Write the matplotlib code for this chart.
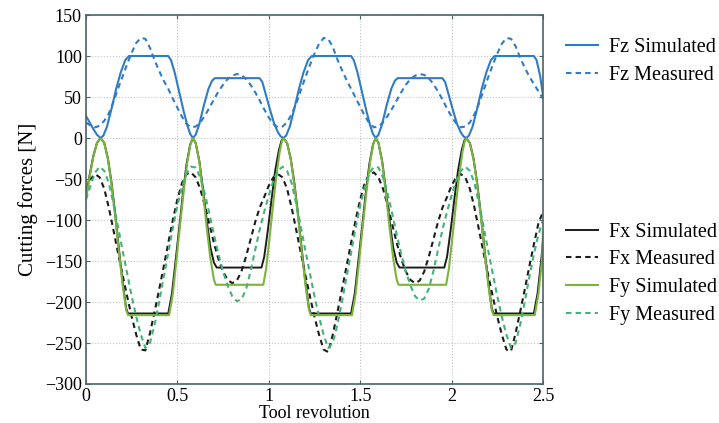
import matplotlib
matplotlib.use("Agg")
import matplotlib.pyplot as plt

plt.rcParams['font.family'] = ['Liberation Serif', 'DejaVu Serif']

# measured signals, sampled every 0.025 revolution
x_meas = [i * 0.025 for i in range(101)]

fz_meas = [19, 15, 13, 15, 21, 30, 44, 60, 75, 90, 104, 116, 122, 121, 110, 95, 82, 70, 60, 48,
           37, 26, 17, 13, 14, 19, 27, 37, 47, 57, 65, 72, 76, 78, 77, 72, 65, 56, 46, 35,
           25, 17, 13, 14, 19, 29, 42, 58, 74, 89, 103, 115, 122, 121, 111, 96, 83, 71, 60, 49,
           38, 27, 18, 13, 14, 19, 27, 36, 46, 56, 65, 72, 76, 78, 77, 73, 66, 57, 47, 36,
           26, 18, 13, 14, 19, 29, 42, 58, 74, 89, 103, 115, 122, 121, 112, 98, 86, 75, 66, 57,
           48]

fx_meas = [-62, -50, -44, -48, -62, -85, -112, -140, -167, -193, -218, -240, -258, -259, -238, -212, -185, -157, -128, -100,
           -75, -55, -44, -42, -48, -62, -82, -105, -128, -148, -163, -173, -177, -174, -163, -145, -124, -103, -85, -72,
           -58, -48, -44, -48, -62, -85, -112, -140, -167, -193, -218, -240, -258, -261, -240, -213, -185, -157, -128, -100,
           -75, -55, -44, -42, -48, -62, -82, -105, -128, -148, -163, -173, -177, -174, -163, -145, -124, -103, -85, -72,
           -58, -48, -44, -48, -62, -85, -112, -140, -167, -193, -218, -240, -258, -260, -238, -212, -185, -157, -130, -104,
           -90]

fy_meas = [-75, -58, -42, -35, -40, -55, -80, -108, -137, -165, -193, -218, -240, -256, -250, -228, -200, -170, -140, -110,
           -82, -60, -43, -35, -36, -48, -68, -92, -118, -142, -163, -180, -193, -199, -197, -185, -163, -137, -112, -90,
           -70, -52, -40, -35, -40, -55, -80, -108, -137, -165, -193, -218, -240, -256, -250, -228, -200, -170, -140, -110,
           -82, -60, -43, -35, -36, -48, -68, -92, -118, -142, -163, -180, -193, -198, -196, -184, -163, -137, -112, -90,
           -70, -52, -40, -35, -40, -55, -80, -108, -137, -165, -193, -218, -240, -256, -250, -228, -200, -170, -142, -118,
           -100]

# simulated signals (breakpoints)
fz_sim_x = [0, .02, .04, .06, .08, .095, .115, .14, .165, .19, .215, .235, .45, .465, .485, .51, .535, .555, .57,
            .585, .6, .62, .645, .67, .69, .705, .95, .965, .985, 1.01, 1.03, 1.05, 1.065,
            1.08, 1.095, 1.115, 1.14, 1.165, 1.19, 1.215, 1.235, 1.45, 1.465, 1.485, 1.51, 1.535, 1.555, 1.57,
            1.585, 1.6, 1.62, 1.645, 1.67, 1.69, 1.705, 1.95, 1.965, 1.985, 2.01, 2.03, 2.05, 2.065,
            2.08, 2.095, 2.115, 2.14, 2.165, 2.19, 2.215, 2.235, 2.45, 2.465, 2.485, 2.5]
fz_sim = [27, 19, 11, 4, 0, 3, 14, 36, 60, 80, 95, 100, 100, 95, 80, 56, 32, 15, 5,
          0, 4, 17, 40, 60, 70, 73, 73, 68, 52, 32, 17, 7, 2,
          0, 3, 14, 36, 60, 80, 95, 100, 100, 95, 80, 56, 32, 15, 5,
          0, 4, 17, 40, 60, 70, 73, 73, 68, 52, 32, 17, 7, 2,
          0, 3, 14, 36, 60, 80, 95, 100, 100, 95, 75, 52]

fx_sim_x = [0, .02, .04, .06, .08, .1, .12, .14, .16, .18, .2, .22, .23, .45, .47, .49, .51, .53, .55, .57,
            .585, .6, .62, .64, .66, .68, .7, .715, .96, .975, .995, 1.015, 1.035, 1.055, 1.07,
            1.08, 1.1, 1.12, 1.14, 1.16, 1.18, 1.2, 1.22, 1.23, 1.45, 1.47, 1.49, 1.51, 1.53, 1.55, 1.57,
            1.585, 1.6, 1.62, 1.64, 1.66, 1.68, 1.7, 1.715, 1.96, 1.975, 1.995, 2.015, 2.035, 2.055, 2.07,
            2.08, 2.1, 2.12, 2.14, 2.16, 2.18, 2.2, 2.22, 2.23, 2.45, 2.47, 2.49, 2.5]
fx_sim = [-72, -45, -22, -6, 0, -6, -25, -55, -93, -135, -175, -208, -214, -214, -190, -150, -110, -68, -32, -8,
          0, -6, -28, -62, -100, -133, -152, -158, -158, -145, -112, -75, -40, -15, -3,
          0, -6, -25, -55, -93, -135, -175, -208, -214, -214, -190, -150, -110, -68, -32, -8,
          0, -6, -28, -62, -100, -133, -152, -158, -158, -145, -112, -75, -40, -15, -3,
          0, -6, -25, -55, -93, -135, -175, -208, -214, -214, -190, -150, -125]

fy_sim_x = [0, .02, .04, .06, .08, .1, .12, .14, .16, .18, .2, .22, .23, .455, .475, .495, .515, .535, .555, .572,
            .585, .6, .62, .64, .66, .68, .7, .71, .97, .985, 1.005, 1.025, 1.045, 1.06, 1.072,
            1.08, 1.1, 1.12, 1.14, 1.16, 1.18, 1.2, 1.22, 1.23, 1.455, 1.475, 1.495, 1.515, 1.535, 1.555, 1.572,
            1.585, 1.6, 1.62, 1.64, 1.66, 1.68, 1.7, 1.71, 1.97, 1.985, 2.005, 2.025, 2.045, 2.06, 2.072,
            2.08, 2.1, 2.12, 2.14, 2.16, 2.18, 2.2, 2.22, 2.23, 2.455, 2.475, 2.495, 2.5]
fy_sim = [-75, -47, -23, -6, 0, -6, -26, -57, -96, -138, -178, -210, -216, -216, -190, -148, -105, -64, -28, -7,
          0, -6, -29, -66, -108, -146, -173, -179, -179, -160, -120, -78, -40, -16, -4,
          0, -6, -26, -57, -96, -138, -178, -210, -216, -216, -190, -148, -105, -64, -28, -7,
          0, -6, -29, -66, -108, -146, -173, -179, -179, -160, -120, -78, -40, -16, -4,
          0, -6, -26, -57, -96, -138, -178, -210, -216, -216, -190, -148, -115]

x_ticks = [0, 0.5, 1, 1.5, 2, 2.5]
x_tick_labels = ['0', '0.5', '1', '1.5', '2', '2.5']
y_ticks = [-300, -250, -200, -150, -100, -50, 0, 50, 100, 150]

blue = '#2f7cc6'
black = '#1c1c1c'
green = '#7ab43e'
green2 = '#45b27a'
dash = (2.6, 2.0)

fig = plt.figure(figsize=(7.19, 4.23), dpi=100)
ax = fig.add_axes([0.1196, 0.0922, 0.6356, 0.8723])

l_fz_sim, = ax.plot(fz_sim_x, fz_sim, color=blue, lw=1.5, label='Fz Simulated')
l_fz_meas, = ax.plot(x_meas, fz_meas, color=blue, lw=1.5, dashes=dash, label='Fz Measured')
l_fx_sim, = ax.plot(fx_sim_x, fx_sim, color=black, lw=1.4, label='Fx Simulated')
l_fx_meas, = ax.plot(x_meas, fx_meas, color=black, lw=1.5, dashes=dash, label='Fx Measured')
l_fy_sim, = ax.plot(fy_sim_x, fy_sim, color=green, lw=1.5, label='Fy Simulated')
l_fy_meas, = ax.plot(x_meas, fy_meas, color=green2, lw=1.5, dashes=dash, label='Fy Measured')

ax.set_xlim(0, 2.5)
ax.set_ylim(-300, 150)
ax.set_xticks(x_ticks)
ax.set_xticklabels(x_tick_labels)
ax.set_yticks(y_ticks)
ax.tick_params(direction='in', top=True, right=True, labelsize=13, length=3, pad=3, color='#4a6468')
ax.grid(True, linestyle=':', color='#c4c4c4', lw=0.8)
for s in ax.spines.values():
    s.set_color('#4a6468')
    s.set_linewidth(1.2)

ax.set_xlabel('Tool revolution', fontsize=13, labelpad=0)
ax.set_ylabel('Cutting forces [N]', fontsize=15, labelpad=5)

leg1 = fig.legend(handles=[l_fz_sim, l_fz_meas], loc='center left', bbox_to_anchor=(0.773, 0.855),
                  frameon=False, fontsize=14.5, handlelength=1.6, handletextpad=0.55, borderpad=0,
                  labelspacing=0.42)
leg2 = fig.legend(handles=[l_fx_sim, l_fx_meas, l_fy_sim, l_fy_meas], loc='center left',
                  bbox_to_anchor=(0.773, 0.353), frameon=False, fontsize=14.5, handlelength=1.6,
                  handletextpad=0.55, borderpad=0, labelspacing=0.42)

fig.savefig('out.png', dpi=100)
